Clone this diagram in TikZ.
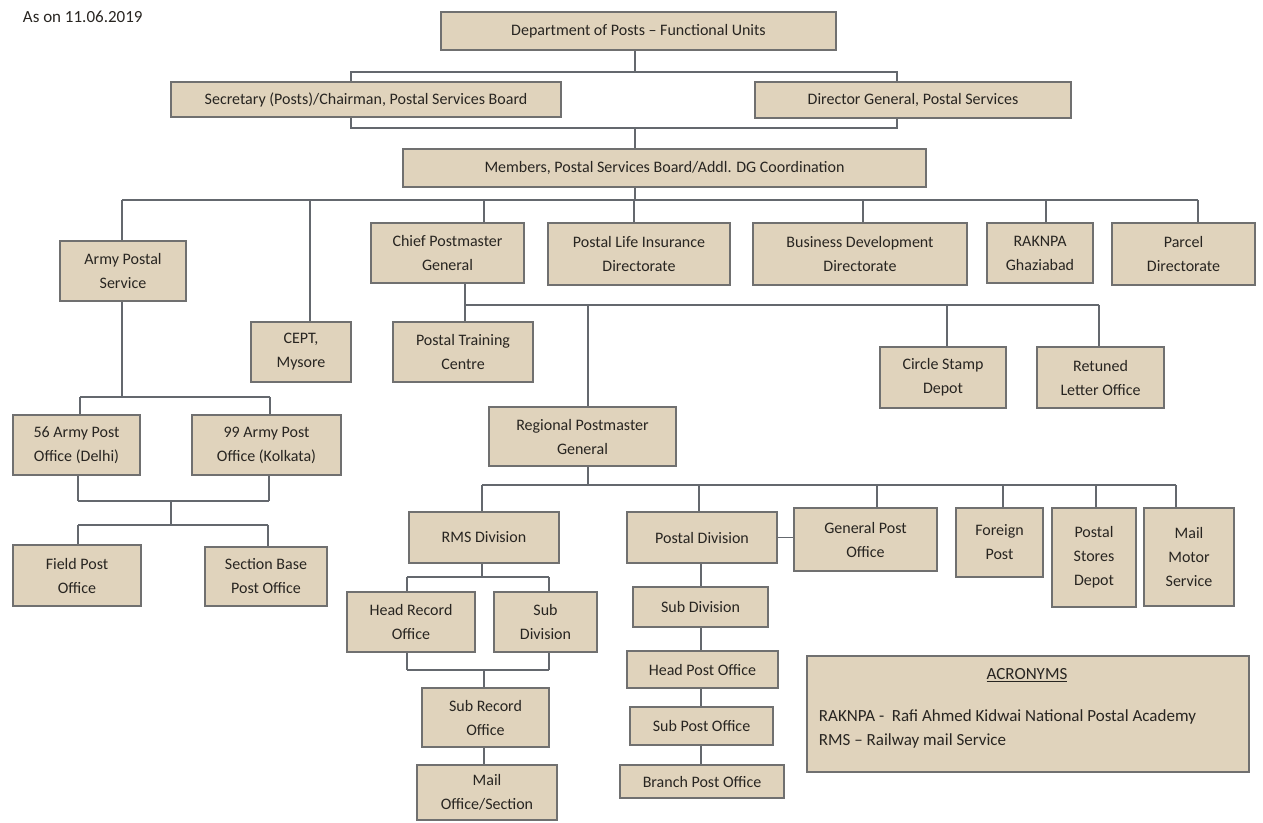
\documentclass[tikz,border=0pt]{standalone}
\usepackage{fontspec}
\setmainfont{Carlito}
\usetikzlibrary{backgrounds,positioning,calc}
\definecolor{unitfill}{RGB}{224,211,188}
\definecolor{unitedge}{RGB}{112,112,112}
\definecolor{linkgray}{RGB}{100,104,110}
\definecolor{textgray}{RGB}{40,37,33}
\tikzset{every picture/.style={line width=1.2pt}}
\tikzset{
  unit/.style={draw=unitedge, fill=unitfill, align=center, inner sep=1pt,
    text=textgray, font=\fontsize{16}{24}\selectfont},
  link/.style={draw=linkgray, line width=1.5pt}
}

\begin{document}
\begin{tikzpicture}[x=1pt,y=-1pt]
    \useasboundingbox (0,0) rectangle (1263,822);

    \node[text=textgray, font=\fontsize{17}{20}\selectfont, anchor=west] (asof) at (19,17) {As on 11.06.2019};

    % 上层
    \node[unit, minimum width=395, minimum height=38] (dept) at (638.5,31) {Department of Posts -- Functional Units};
    \node[unit, minimum width=390, minimum height=35] (secy) at (366,99.5) {Secretary (Posts)/Chairman, Postal Services Board};
    \node[unit, minimum width=316, minimum height=36] (dgps) at (913,100) {Director General, Postal Services};
    \node[unit, minimum width=523, minimum height=38] (members) at (664.5,168) {Members, Postal Services Board/Addl. DG Coordination};

    % 第三层
    \node[unit, minimum width=126, minimum height=60] (aps) at (123,271) {Army Postal\\Service};
    \node[unit, minimum width=100, minimum height=60] (cept) at (301,352) {CEPT,\\Mysore};
    \node[unit, minimum width=153, minimum height=60] (cpmg) at (447.5,253) {Chief Postmaster\\General};
    \node[unit, minimum width=182, minimum height=62] (pli) at (639,254) {Postal Life Insurance\\Directorate};
    \node[unit, minimum width=214, minimum height=62] (bdd) at (860,254) {Business Development\\Directorate};
    \node[unit, minimum width=106, minimum height=60] (raknpa) at (1040,253) {RAKNPA\\Ghaziabad};
    \node[unit, minimum width=143, minimum height=62] (parcel) at (1183.5,254) {Parcel\\Directorate};

    % Chief Postmaster General 下属
    \node[unit, minimum width=140, minimum height=60] (ptc) at (463,352) {Postal Training\\Centre};
    \node[unit, minimum width=187, minimum height=59] (rpmg) at (582.5,436.5) {Regional Postmaster\\General};
    \node[unit, minimum width=126, minimum height=61] (csd) at (943,377.5) {Circle Stamp\\Depot};
    \node[unit, minimum width=127, minimum height=61] (rlo) at (1100.5,377.5) {Retuned\\Letter Office};

    % 军邮
    \node[unit, minimum width=127, minimum height=60] (apo56) at (76.5,445) {56 Army Post\\Office (Delhi)};
    \node[unit, minimum width=149, minimum height=60] (apo99) at (266.5,445) {99 Army Post\\Office (Kolkata)};
    \node[unit, minimum width=128, minimum height=61] (fpo) at (77,575.5) {Field Post\\Office};
    \node[unit, minimum width=122, minimum height=59] (sbpo) at (266,576.5) {Section Base\\Post Office};

    % Regional Postmaster General 下属
    \node[unit, minimum width=150, minimum height=51] (rms) at (484,537.5) {RMS Division};
    \node[unit, minimum width=150, minimum height=51] (pdiv) at (702,537.5) {Postal Division};
    \node[unit, minimum width=143, minimum height=63] (gpo) at (865.5,539.5) {General Post\\Office};
    \node[unit, minimum width=87, minimum height=69] (fpost) at (999.5,542.5) {Foreign\\Post};
    \node[unit, minimum width=84, minimum height=99] (psd) at (1094,557.5) {Postal\\Stores\\Depot};
    \node[unit, minimum width=90, minimum height=98] (mms) at (1189,557) {Mail\\Motor\\Service};

    % RMS
    \node[unit, minimum width=128, minimum height=60] (hro) at (411,622) {Head Record\\Office};
    \node[unit, minimum width=103, minimum height=60] (rmssub) at (545.5,622) {Sub\\Division};
    \node[unit, minimum width=127, minimum height=59] (sro) at (485.5,717.5) {Sub Record\\Office};
    \node[unit, minimum width=140, minimum height=55] (mail) at (487,792.5) {Mail\\Office/Section};

    % 邮政分区
    \node[unit, minimum width=135, minimum height=40] (subdiv) at (700.5,607) {Sub Division};
    \node[unit, minimum width=151, minimum height=37] (hpo) at (702.5,669.5) {Head Post Office};
    \node[unit, minimum width=143, minimum height=38] (spo) at (701.5,726) {Sub Post Office};
    \node[unit, minimum width=164, minimum height=33] (bpo) at (702,781.5) {Branch Post Office};

    % 缩写
    \node[unit, minimum width=442, minimum height=116] (acr) at (1028,714) {};
    \node[text=textgray, font=\fontsize{17}{20}\selectfont] (acrtitle) at (1027,675) {\underline{ACRONYMS}};
    \node[text=textgray, font=\fontsize{17}{24}\selectfont, align=left, anchor=north west] (acrtext) at (815,706)
        {RAKNPA -\ \ Rafi Ahmed Kidwai National Postal Academy\\RMS -- Railway mail Service};

    % 连线
    \begin{scope}[on background layer]
        \draw[link] (635,0 |- dept.south) -- (635,72);
        \draw[link] (351,72) rectangle (897,128);
        \draw[link] (635,128) -- (635,0 |- members.north);
        \draw[link] (635,0 |- members.south) -- (635,200);
        \draw[link] (122,200) -- (1198,200);
        \foreach \cx/\nm in {122/aps, 310/cept, 484/cpmg, 634/pli, 863/bdd, 1046/raknpa, 1198/parcel}
            \draw[link] (\cx,200) -- (\cx,0 |- \nm.north);

        \draw[link] (465,0 |- cpmg.south) -- (465,305);
        \draw[link] (465,305) -- (1099,305);
        \foreach \cx/\nm in {465/ptc, 588/rpmg, 947/csd, 1099/rlo}
            \draw[link] (\cx,305) -- (\cx,0 |- \nm.north);

        \draw[link] (122,0 |- aps.south) -- (122,397);
        \draw[link] (80,397) -- (270,397);
        \foreach \cx/\nm in {80/apo56, 270/apo99}
            \draw[link] (\cx,397) -- (\cx,0 |- \nm.north);
        \foreach \cx/\nm in {78/apo56, 269/apo99}
            \draw[link] (\cx,0 |- \nm.south) -- (\cx,501);
        \draw[link] (78,501) -- (269,501);
        \draw[link] (171,501) -- (171,525);
        \draw[link] (78,525) -- (268,525);
        \foreach \cx/\nm in {78/fpo, 268/sbpo}
            \draw[link] (\cx,525) -- (\cx,0 |- \nm.north);

        \draw[link] (588,0 |- rpmg.south) -- (588,485);
        \draw[link] (482,485) -- (1176,485);
        \foreach \cx/\nm in {482/rms, 699/pdiv, 877/gpo, 1003/fpost, 1096/psd, 1176/mms}
            \draw[link] (\cx,485) -- (\cx,0 |- \nm.north);
        \draw[link] (pdiv.east) -- (pdiv.east -| gpo.west);

        \draw[link] (482,0 |- rms.south) -- (482,577);
        \draw[link] (407,577) -- (549,577);
        \foreach \cx/\nm in {407/hro, 549/rmssub}
            \draw[link] (\cx,577) -- (\cx,0 |- \nm.north);
        \foreach \cx/\nm in {407/hro, 549/rmssub}
            \draw[link] (\cx,0 |- \nm.south) -- (\cx,670);
        \draw[link] (407,670) -- (549,670);
        \draw[link] (484,670) -- (484,0 |- sro.north);
        \draw[link] (484,0 |- sro.south) -- (484,0 |- mail.north);

        \draw[link] (701,0 |- pdiv.south) -- (701,0 |- bpo.north);
    \end{scope}
\end{tikzpicture}
\end{document}
